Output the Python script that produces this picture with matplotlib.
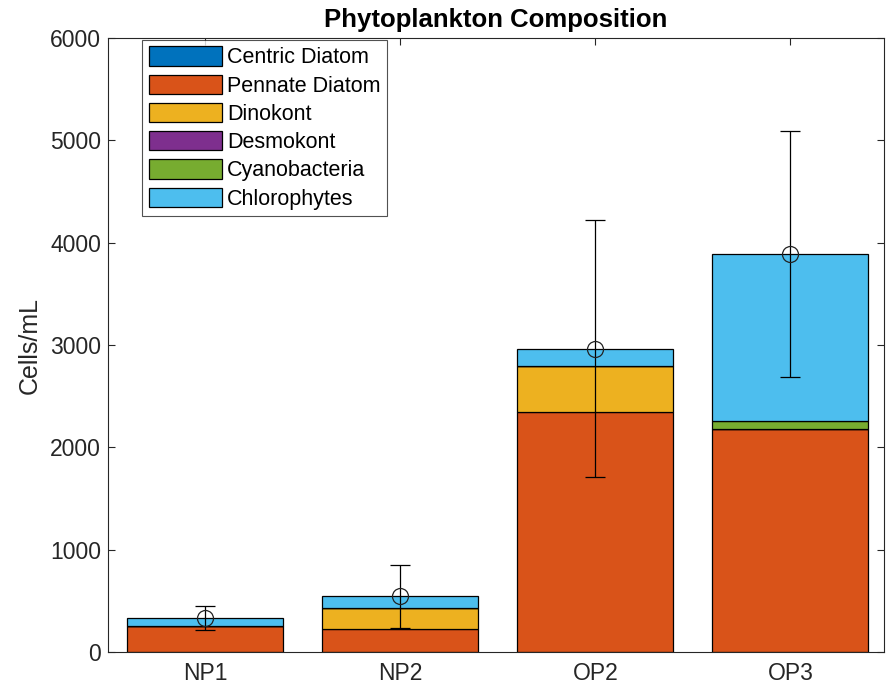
import numpy as np
import matplotlib.pyplot as plt

plt.rcParams['font.family'] = ['Liberation Sans', 'DejaVu Sans']

# Sites and stacked group values (cells/mL)
sites = ['NP1', 'NP2', 'OP2', 'OP3']
groups = ['Centric Diatom', 'Pennate Diatom', 'Dinokont', 'Desmokont',
          'Cyanobacteria', 'Chlorophytes']
centric = [0, 0, 0, 0]
pennate = [254, 228, 2346, 2183]
dinokont = [0, 205, 450, 0]
desmokont = [0, 0, 0, 0]
cyano = [0, 0, 0, 78]
chloro = [78, 111, 166, 1629]

# Mean and error (symmetric)
mean_vals = [332, 544, 2962, 3890]
err_vals = [115, 306, 1256, 1205]

colors = ['#0072BD', '#D95319', '#EDB120', '#7E2F8E', '#77AC30', '#4DBEEE']

fig = plt.figure(figsize=(8.89, 6.93), dpi=100)
ax = fig.add_axes([108 / 889, 41 / 693, 776 / 889, 614 / 693])

x = np.arange(1, len(sites) + 1)
series = [centric, pennate, dinokont, desmokont, cyano, chloro]
bottom = np.zeros(len(sites))
for name, vals, c in zip(groups, series, colors):
    vals = np.array(vals, dtype=float)
    ax.bar(x, vals, width=0.8, bottom=bottom, color=c, edgecolor='black',
           linewidth=0.9, label=name, zorder=2)
    bottom += vals

ax.errorbar(x, mean_vals, yerr=err_vals, fmt='o', mfc='none', mec='#222222',
            ms=11.5, mew=0.9, ecolor='black', elinewidth=0.9, capsize=7,
            capthick=0.9, zorder=3)

ax.set_xlim(0.5, 4.48)
ax.set_ylim(0, 6000)
ax.set_xticks(x)
ax.set_xticklabels(sites)
ax.set_yticks(np.arange(0, 6001, 1000))
ax.tick_params(direction='in', length=5, labelsize=16.5, colors='#262626',
               width=0.8, top=True, right=True, labeltop=False, labelright=False,
               pad=5)
ax.tick_params(axis='x', pad=7)
for s in ax.spines.values():
    s.set_color('#262626')
    s.set_linewidth(0.8)
ax.set_ylabel('Cells/mL', fontsize=18, color='#262626', labelpad=6)
ax.set_title('Phytoplankton Composition', fontsize=18.5, fontweight='bold',
             pad=8)

leg = ax.legend(loc='upper left', bbox_to_anchor=(0.044, 0.997), fontsize=15.5,
                frameon=True, fancybox=False, edgecolor='#262626',
                handlelength=3.4, handleheight=1.0, labelspacing=0.29,
                borderpad=0.3, handletextpad=0.25, borderaxespad=0)
leg.get_frame().set_linewidth(0.8)

fig.savefig('out.png', dpi=100)
